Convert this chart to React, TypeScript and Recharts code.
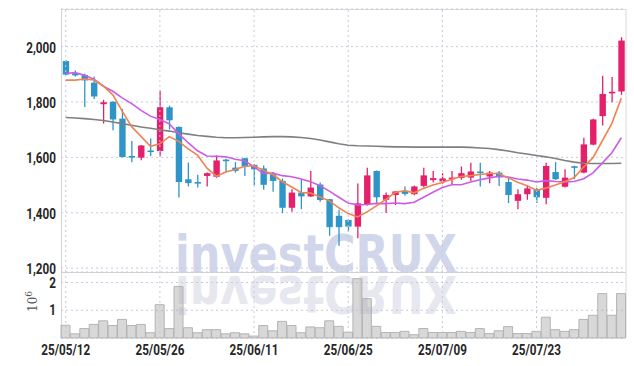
import React from "react";
import {
  Bar,
  BarChart,
  CartesianGrid,
  ComposedChart,
  Line,
  ReferenceLine,
  XAxis,
  YAxis,
} from "recharts";

const dates = [
  "25/05/12", "25/05/13", "25/05/14", "25/05/15", "25/05/16", "25/05/19", "25/05/20", "25/05/21", "25/05/22", "25/05/23",
  "25/05/26", "25/05/27", "25/05/28", "25/05/29", "25/05/30", "25/06/02", "25/06/04", "25/06/05", "25/06/09", "25/06/10",
  "25/06/11", "25/06/12", "25/06/13", "25/06/16", "25/06/17", "25/06/18", "25/06/19", "25/06/20", "25/06/23", "25/06/24",
  "25/06/25", "25/06/26", "25/06/27", "25/06/30", "25/07/01", "25/07/02", "25/07/03", "25/07/04", "25/07/07", "25/07/08",
  "25/07/09", "25/07/10", "25/07/11", "25/07/14", "25/07/15", "25/07/16", "25/07/17", "25/07/18", "25/07/21", "25/07/22",
  "25/07/23", "25/07/24", "25/07/25", "25/07/28", "25/07/29", "25/07/30", "25/07/31", "25/08/01", "25/08/04", "25/08/05",
];

const opens = [
  1948, 1904, 1898, 1870, 1792, 1801, 1740, 1605, 1599, 1625,
  1623, 1781, 1710, 1521, 1511, 1533, 1530, 1592, 1563, 1597,
  1573, 1560, 1539, 1515, 1418, 1473, 1459, 1502, 1449, 1389,
  1374, 1350, 1428, 1551, 1447, 1464, 1478, 1467, 1497, 1518,
  1513, 1521, 1526, 1527, 1549, 1531, 1545, 1511, 1443, 1467,
  1485, 1454, 1547, 1494, 1568, 1545, 1646, 1749, 1833, 1838,
];
const highs = [
  1952, 1914, 1902, 1892, 1808, 1803, 1775, 1659, 1645, 1668,
  1842, 1787, 1712, 1581, 1537, 1545, 1607, 1595, 1583, 1599,
  1575, 1571, 1547, 1524, 1485, 1519, 1551, 1509, 1450, 1411,
  1376, 1506, 1563, 1553, 1473, 1478, 1495, 1498, 1563, 1551,
  1543, 1551, 1567, 1581, 1581, 1551, 1551, 1527, 1485, 1500,
  1490, 1581, 1583, 1557, 1570, 1671, 1740, 1895, 1890, 2034,
];
const lows = [
  1897, 1892, 1782, 1811, 1722, 1698, 1600, 1582, 1590, 1605,
  1603, 1701, 1455, 1495, 1491, 1495, 1526, 1545, 1545, 1533,
  1500, 1483, 1476, 1399, 1404, 1413, 1457, 1440, 1317, 1281,
  1332, 1308, 1426, 1435, 1399, 1428, 1461, 1463, 1491, 1509,
  1505, 1503, 1519, 1515, 1495, 1507, 1497, 1435, 1413, 1447,
  1435, 1431, 1519, 1491, 1521, 1543, 1644, 1715, 1799, 1826,
];
const closes = [
  1899, 1896, 1878, 1820, 1799, 1737, 1601, 1599, 1643, 1620,
  1781, 1734, 1511, 1507, 1508, 1543, 1589, 1588, 1551, 1567,
  1557, 1501, 1515, 1418, 1473, 1459, 1491, 1446, 1348, 1348,
  1350, 1434, 1535, 1456, 1464, 1477, 1468, 1495, 1535, 1525,
  1524, 1527, 1543, 1549, 1546, 1545, 1528, 1464, 1467, 1488,
  1456, 1569, 1521, 1527, 1563, 1647, 1737, 1829, 1837, 2022,
];

// moving averages
const ma5 = [
  1879, 1879, 1883, 1880, 1858, 1826, 1767, 1711, 1676, 1640,
  1649, 1675, 1658, 1631, 1608, 1561, 1532, 1547, 1556, 1568,
  1570, 1553, 1538, 1512, 1493, 1473, 1471, 1457, 1443, 1418,
  1397, 1385, 1403, 1425, 1448, 1473, 1480, 1472, 1488, 1500,
  1509, 1521, 1531, 1534, 1538, 1542, 1542, 1526, 1510, 1498,
  1481, 1489, 1500, 1512, 1527, 1565, 1599, 1661, 1723, 1814,
];
const ma10 = [
  1903, 1906, 1897, 1882, 1857, 1839, 1815, 1794, 1770, 1749,
  1737, 1721, 1685, 1653, 1624, 1605, 1604, 1602, 1593, 1588,
  1566, 1542, 1543, 1534, 1530, 1522, 1512, 1498, 1478, 1456,
  1435, 1428, 1430, 1434, 1433, 1435, 1433, 1438, 1456, 1474,
  1491, 1501, 1501, 1511, 1519, 1526, 1532, 1529, 1522, 1518,
  1511, 1516, 1513, 1511, 1513, 1523, 1544, 1580, 1617, 1671,
];
const maLong = [
  1744, 1742, 1740, 1737, 1733, 1728, 1722, 1716, 1710, 1705,
  1700, 1695, 1689, 1684, 1679, 1676, 1673, 1671, 1671, 1672,
  1673, 1674, 1675, 1675, 1674, 1672, 1668, 1663, 1656, 1649,
  1644, 1642, 1641, 1640, 1639, 1638, 1638, 1637, 1637, 1637,
  1637, 1637, 1637, 1636, 1634, 1632, 1628, 1623, 1617, 1612,
  1607, 1602, 1596, 1589, 1583, 1579, 1578, 1578, 1578, 1579,
];

// volume, millions of shares
const volumes = [
  0.46, 0.15, 0.34, 0.49, 0.62, 0.45, 0.67, 0.45, 0.49, 0.19,
  1.2, 0.34, 1.86, 0.37, 0.19, 0.3, 0.3, 0.15, 0.19, 0.15,
  0.07, 0.45, 0.26, 0.6, 0.45, 0.19, 0.4, 0.37, 0.62, 0.42,
  0.21, 2.14, 1.42, 0.42, 0.2, 0.2, 0.24, 0.12, 0.34, 0.2,
  0.2, 0.2, 0.24, 0.2, 0.34, 0.16, 0.26, 0.41, 0.16, 0.16,
  0.24, 0.75, 0.3, 0.24, 0.3, 0.67, 0.82, 1.6, 0.82, 1.6,
];

const priceTicks = [1200, 1400, 1600, 1800, 2000];
const volTicks = [1, 2];
const gridDates = [dates[0], dates[10], dates[20], dates[30], dates[40], dates[50]];

const RED = "#e5206b";
const BLUE = "#2f95c8";
const GRID = "#c5cadf";

const rows = dates.map((date, i) => ({
  date,
  open: opens[i],
  high: highs[i],
  low: lows[i],
  close: closes[i],
  range: [lows[i], highs[i]],
  ma5: ma5[i],
  ma10: ma10[i],
  maLong: maLong[i],
  vol: volumes[i],
}));

function Candle(props: any) {
  const { x, y, width, height, payload } = props;
  if (!payload) return null;
  const { open, close, high, low } = payload;
  const color = close >= open ? RED : BLUE;
  const k = height / (high - low || 1);
  const top = y + (high - Math.max(open, close)) * k;
  const bottom = y + (high - Math.min(open, close)) * k;
  const cx = x + width / 2;
  const bw = 6.4;
  return (
    <g>
      <line x1={cx} x2={cx} y1={y} y2={y + height} stroke={color} strokeWidth={1.3} />
      <rect x={cx - bw / 2} y={top} width={bw} height={Math.max(bottom - top, 1.6)} fill={color} />
    </g>
  );
}

// narrow, heavy tick labels like the original
function Tick(props: any) {
  const { x, y, payload, textAnchor, fmt, dy } = props;
  const label = fmt ? fmt(payload.value) : payload.value;
  return (
    <g transform={`translate(${x},${y})`}>
      <text
        transform="scale(0.78,1)"
        textAnchor={textAnchor}
        dy={dy}
        fill="#262626"
        fontSize={15}
        fontFamily="Roboto, 'DejaVu Sans', sans-serif"
        fontWeight={700}
      >
        {label}
      </text>
    </g>
  );
}

const fmtPrice = (v: number) => Number(v).toLocaleString("en-US");

function Backdrop() {
  const mark = (fill: string) => (
    <text
      x={175}
      y={271.5}
      textLength={282}
      lengthAdjust="spacingAndGlyphs"
      fontFamily="'DejaVu Sans', sans-serif"
      fontWeight="bold"
      fontSize={52}
      fill={fill}
    >
      investCRUX
    </text>
  );
  return (
    <svg width={634} height={366} style={{ position: "absolute", left: 0, top: 0 }}>
      {mark("#d1d6ea")}
      <g transform="translate(0,547) scale(1,-1)">{mark("#e7e7ef")}</g>
      <line x1={61} x2={626} y1={9.5} y2={9.5} stroke="#d9d9d9" />
      <line x1={61} x2={626} y1={272.5} y2={272.5} stroke="#d4d4d4" />
      <line x1={61.5} x2={61.5} y1={9} y2={338} stroke="#d4d4d4" />
      <line x1={626} x2={626} y1={9} y2={338} stroke="#d9d9d9" />
      <text
        transform="translate(37,312) rotate(-90)"
        fontFamily="'DejaVu Serif', serif"
        fontSize={12}
        fill="#555"
      >
        10
        <tspan dy={-5} fontSize={9}>6</tspan>
      </text>
    </svg>
  );
}

export default function App() {
  return (
    <div style={{ position: "absolute", left: 0, top: 0, width: 634, height: 366, background: "#fff" }}>
      <Backdrop />
      <div style={{ position: "absolute", left: 0, top: 0 }}>
        <ComposedChart width={634} height={281} data={rows} margin={{ top: 9, right: 8, left: 0, bottom: 9 }}>
          <CartesianGrid vertical={false} stroke={GRID} strokeDasharray="2 3" />
          {gridDates.map((d) => (
            <ReferenceLine key={d} x={d} stroke={GRID} strokeDasharray="2 3" />
          ))}
          <XAxis dataKey="date" hide />
          <YAxis
            width={61}
            domain={[1186, 2136]}
            ticks={priceTicks}
            tick={<Tick fmt={fmtPrice} dy={6} />}
            tickLine={false}
            axisLine={false}
            tickSize={0}
            tickMargin={5}
          />
          <Bar dataKey="range" shape={<Candle />} isAnimationActive={false} />
          <Line dataKey="maLong" stroke="#7f7f7f" strokeWidth={1.6} dot={false} type="linear" isAnimationActive={false} />
          <Line dataKey="ma10" stroke="#cb5ce6" strokeWidth={1.6} dot={false} type="linear" isAnimationActive={false} />
          <Line dataKey="ma5" stroke="#ef8452" strokeWidth={1.6} dot={false} type="linear" isAnimationActive={false} />
        </ComposedChart>
      </div>
      <div style={{ position: "absolute", left: 0, top: 272 }}>
        <BarChart width={634} height={94} data={rows} margin={{ top: 0, right: 8, left: 0, bottom: 0 }} barCategoryGap={0}>
          <CartesianGrid vertical={false} stroke={GRID} strokeDasharray="2 3" />
          {gridDates.map((d) => (
            <ReferenceLine key={d} x={d} stroke={GRID} strokeDasharray="2 3" />
          ))}
          <XAxis
            dataKey="date"
            height={28}
            interval={9}
            tick={<Tick dy={11} />}
            tickLine={false}
            axisLine={false}
            tickSize={0}
            tickMargin={6}
          />
          <YAxis
            width={61}
            domain={[0, 2.38]}
            ticks={volTicks}
            tick={<Tick dy={5} />}
            tickLine={false}
            axisLine={false}
            tickSize={0}
            tickMargin={5}
          />
          <Bar dataKey="vol" fill="#a9a9a9" fillOpacity={0.45} stroke="#b4b4b4" strokeWidth={1} isAnimationActive={false} />
        </BarChart>
      </div>
    </div>
  );
}
